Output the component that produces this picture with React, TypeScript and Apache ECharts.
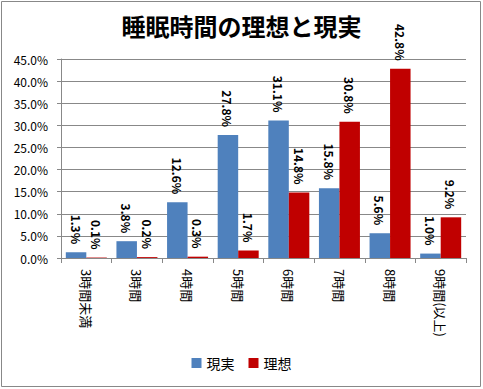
import React, { useEffect, useRef } from "react";
import * as echarts from "echarts";

const categories = ["3時間未満", "3時間", "4時間", "5時間", "6時間", "7時間", "8時間", "9時間(以上)"];
const realValues = [1.3, 3.8, 12.6, 27.8, 31.1, 15.8, 5.6, 1.0];
const idealValues = [0.1, 0.2, 0.3, 1.7, 14.8, 30.8, 42.8, 9.2];
const seriesNames = ["現実", "理想"];
const titleText = "睡眠時間の理想と現実";

const FONT = "'Noto Sans CJK JP', 'Noto Sans', sans-serif";

export default function App() {
  const ref = useRef<HTMLDivElement>(null);
  useEffect(() => {
    if (!ref.current) return;
    const chart = echarts.init(ref.current, null, { renderer: "svg" });
    const label = {
      show: true,
      position: "top",
      rotate: -90,
      align: "right",
      verticalAlign: "middle",
      distance: 8,
      formatter: (p: any) => p.value.toFixed(1) + "%",
      color: "#000",
      fontWeight: "bold",
      fontSize: 12,
      fontFamily: FONT,
    };
    chart.setOption({
      animation: false,
      backgroundColor: "#fff",
      textStyle: { fontFamily: FONT },
      title: {
        text: titleText,
        left: "center",
        top: 8,
        textStyle: { fontSize: 24, fontWeight: "bold", color: "#000", fontFamily: FONT },
      },
      legend: {
        bottom: 14,
        left: "center",
        itemWidth: 10,
        itemHeight: 10,
        itemGap: 14,
        icon: "rect",
        textStyle: { fontSize: 14, color: "#000", fontFamily: FONT },
        data: seriesNames,
      },
      grid: { left: 61, right: 17, top: 59, bottom: 131, containLabel: false },
      xAxis: {
        type: "category",
        data: categories,
        axisLine: { lineStyle: { color: "#888" } },
        axisTick: { show: true, alignWithLabel: false, length: 5, lineStyle: { color: "#888" } },
        axisLabel: { rotate: -90, color: "#000", fontSize: 13, margin: 11, fontFamily: FONT },
      },
      yAxis: {
        type: "value",
        min: 0,
        max: 45,
        interval: 5,
        axisLine: { show: true, lineStyle: { color: "#888" } },
        axisTick: { show: true, length: 4, lineStyle: { color: "#888" } },
        splitLine: { lineStyle: { color: "#888" } },
        axisLabel: {
          color: "#000",
          fontSize: 12,
          margin: 13,
          fontFamily: FONT,
          formatter: (v: number) => v.toFixed(1) + "%",
        },
      },
      series: [
        {
          name: seriesNames[0],
          type: "bar",
          data: realValues,
          itemStyle: { color: "#4F81BD" },
          barGap: "0%",
          barCategoryGap: "19%",
          label,
        },
        {
          name: seriesNames[1],
          type: "bar",
          data: idealValues,
          itemStyle: { color: "#C00000" },
          barGap: "0%",
          barCategoryGap: "19%",
          label,
        },
      ],
      graphic: [
        {
          type: "rect",
          shape: { x: 1.5, y: 1.5, width: 479, height: 385 },
          style: { fill: "none", stroke: "#888", lineWidth: 1 },
          silent: true,
        },
      ],
    });
    return () => chart.dispose();
  }, []);
  return <div ref={ref} style={{ position: "fixed", left: 0, top: 0, width: 483, height: 389 }} />;
}
